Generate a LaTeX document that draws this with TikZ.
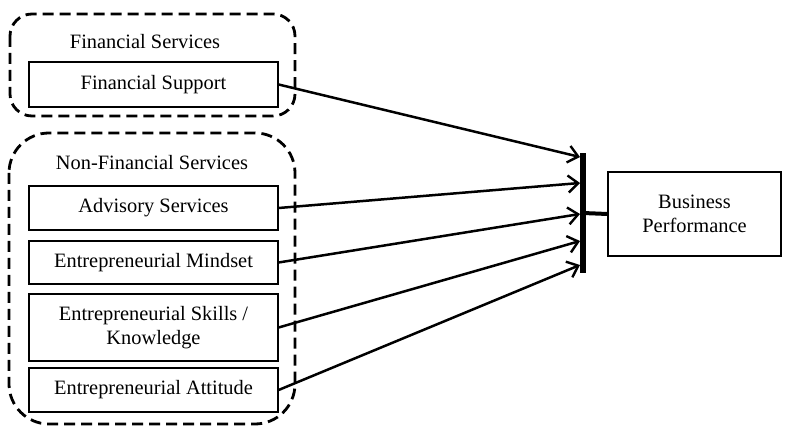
\documentclass[tikz,border=0pt]{standalone}
\usepackage{fontspec}
\setmainfont{Liberation Serif}
\usetikzlibrary{arrows.meta}
\tikzset{
  item/.style={draw, line width=0.6pt, minimum width=124.5pt, align=center,
    inner sep=1pt, font=\fontsize{10.2}{12}\selectfont},
  group/.style={line width=1.4pt, dash pattern=on 5.5pt off 3pt},
  link/.style={line width=1.25pt, -{Straight Barb[length=5pt, width=8.5pt, line width=1.2pt]}}
}
\begin{document}
\begin{tikzpicture}[x=0.5pt, y=-0.5pt]
        \useasboundingbox (0,0) rectangle (791,426);
        % groups
        \draw[group, rounded corners=11pt] (10,14) rectangle (295,116);
        \draw[group, rounded corners=20pt] (9,133) rectangle (295,424);
        \node[font=\fontsize{10.2}{12}\selectfont] (fshead) at (145,42) {Financial Services};
        \node[font=\fontsize{10.2}{12}\selectfont] (nfhead) at (152,163) {Non-Financial Services};
        % node
        \node[item, minimum height=22.5pt] (fs) at (153.5,84.5) {Financial Support};
        \node[item, minimum height=22pt] (adv) at (153.5,208) {Advisory Services};
        \node[item, minimum height=21.5pt] (mind) at (153.5,262.5) {Entrepreneurial Mindset};
        \node[item, minimum height=33.5pt] (skill) at (153.5,327.5) {Entrepreneurial Skills /\\Knowledge};
        \node[item, minimum height=22pt] (att) at (153.5,390) {Entrepreneurial Attitude};
        \node[item, minimum width=86.5pt, minimum height=42pt] (bp) at (694.5,214) {Business\\Performance};
        % bar
        \node[fill, inner sep=0pt, minimum width=2.6pt, minimum height=60pt] (bar) at (583,213) {};
        \coordinate (t1) at (580,157);
        \coordinate (t2) at (580,183);
        \coordinate (t3) at (580,214);
        \coordinate (t4) at (580,241);
        \coordinate (t5) at (580,265);
        % lines
        \draw[link] (fs.east) -- (t1);
        \draw[link] (adv.east) -- (t2);
        \draw[link] (mind.east) -- (t3);
        \draw[link] (skill.east) -- (t4);
        \draw[link] (att.east) -- (t5);
        \draw[line width=2pt] (bar.center) -- (bp.west);
      \end{tikzpicture}
\end{document}
